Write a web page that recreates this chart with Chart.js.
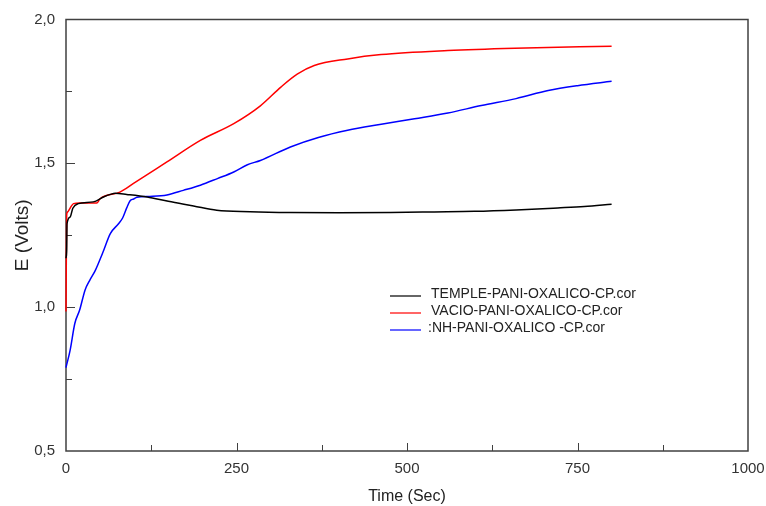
<!DOCTYPE html>
<html>
<head>
<meta charset="utf-8">
<script src="https://cdn.jsdelivr.net/npm/chart.js@4.4.1/dist/chart.umd.min.js"></script>
<style>
  html, body { margin: 0; padding: 0; background: #fff; }
</style>
</head>
<body>
<canvas id="chart" width="766" height="506"></canvas>
<script>
// Series: time (s) and potential (V)
var templeTime = [0, 1, 1.5, 6, 10, 18, 40, 55, 65, 72, 89, 119, 150, 187, 221, 270, 329, 400, 476, 540, 599, 660, 721, 760, 800];
var templeE = [1.17, 1.2, 1.29, 1.313, 1.344, 1.36, 1.366, 1.383, 1.392, 1.396, 1.392, 1.383, 1.368, 1.352, 1.337, 1.332, 1.329, 1.328, 1.329, 1.331, 1.333, 1.338, 1.345, 1.35, 1.358];

var vacioTime = [0, 0.3, 1, 2, 6, 11, 20, 45, 50, 79, 99, 148, 197, 246, 285, 315, 339, 364, 413, 462, 560, 658, 800];
var vacioE = [0.985, 1.1, 1.32, 1.33, 1.344, 1.36, 1.362, 1.362, 1.377, 1.4, 1.43, 1.505, 1.58, 1.638, 1.7, 1.765, 1.81, 1.84, 1.863, 1.878, 1.892, 1.9, 1.907];

var nhTime = [0, 1, 6, 13, 20, 28, 35, 43, 54, 65, 77, 83, 89, 94, 99, 104, 123, 148, 172, 197, 222, 246, 266, 285, 329, 370, 413, 460, 511, 560, 609, 660, 707, 750, 800];
var nhE = [0.79, 0.8, 0.85, 0.944, 0.99, 1.06, 1.094, 1.128, 1.19, 1.256, 1.29, 1.31, 1.345, 1.37, 1.376, 1.382, 1.385, 1.39, 1.406, 1.424, 1.447, 1.47, 1.495, 1.51, 1.557, 1.59, 1.615, 1.635, 1.655, 1.675, 1.701, 1.725, 1.753, 1.77, 1.785];

var seriesLabels = ['TEMPLE-PANI-OXALICO-CP.cor', 'VACIO-PANI-OXALICO-CP.cor', ':NH-PANI-OXALICO -CP.cor'];
var seriesColors = ['#000000', '#ff0000', '#0000ff'];

var xMin = 0, xMax = 1000, xStep = 250;
var yMin = 0.5, yMax = 2.0, yStep = 0.5;

// turn two parallel arrays into {x, y} points
function toPoints(times, values) {
    return times.map(function (t, i) { return { x: t, y: values[i] }; });
}

var FONT = "'Liberation Sans', Arial, sans-serif";

// box around the plot plus inward major/minor tick marks
var frameTicks = {
    id: 'frameTicks',
    beforeDatasetsDraw: function (chart) {
        var ctx = chart.ctx, a = chart.chartArea;
        var x = chart.scales.x, y = chart.scales.y;
        ctx.save();
        ctx.strokeStyle = '#404040';
        ctx.lineWidth = 1.5;
        ctx.strokeRect(a.left, a.top, a.right - a.left, a.bottom - a.top);
        ctx.lineWidth = 1;
        ctx.beginPath();
        for (var v = xMin + xStep / 2; v < xMax; v += xStep / 2) {
            var px = Math.round(x.getPixelForValue(v)) + 0.5;
            var major = Math.abs(v % xStep) < 1e-6;
            ctx.moveTo(px, a.bottom);
            ctx.lineTo(px, a.bottom - (major ? 8 : 6));
        }
        for (var w = yMin + yStep / 2; w < yMax - 1e-6; w += yStep / 2) {
            var py = Math.round(y.getPixelForValue(w)) + 0.5;
            var maj = Math.abs(((w - yMin) / yStep) - Math.round((w - yMin) / yStep)) < 1e-6;
            ctx.moveTo(a.left, py);
            ctx.lineTo(a.left + (maj ? 9 : 6), py);
        }
        ctx.stroke();
        ctx.restore();
    }
};

// legend sitting inside the plot
var innerLegend = {
    id: 'innerLegend',
    afterDraw: function (chart) {
        var ctx = chart.ctx;
        ctx.save();
        ctx.font = '14px ' + FONT;
        ctx.textBaseline = 'middle';
        chart.data.datasets.forEach(function (ds, i) {
            var ly = 296 + i * 17;
            ctx.strokeStyle = ds.borderColor;
            ctx.lineWidth = 1.2;
            ctx.beginPath();
            ctx.moveTo(390, ly);
            ctx.lineTo(421, ly);
            ctx.stroke();
            ctx.fillStyle = '#222';
            ctx.fillText(ds.label, i === 2 ? 428 : 431, ly - 2);
        });
        ctx.restore();
    }
};

new Chart(document.getElementById('chart'), {
    type: 'line',
    data: {
        datasets: [
            { label: seriesLabels[0], data: toPoints(templeTime, templeE), borderColor: seriesColors[0] },
            { label: seriesLabels[1], data: toPoints(vacioTime, vacioE), borderColor: seriesColors[1] },
            { label: seriesLabels[2], data: toPoints(nhTime, nhE), borderColor: seriesColors[2] }
        ]
    },
    options: {
        responsive: false,
        animation: false,
        layout: { padding: { top: 19.5, right: 18, left: 0, bottom: 0 } },
        elements: {
            point: { radius: 0 },
            line: { borderWidth: 1.5, cubicInterpolationMode: 'monotone', fill: false }
        },
        datasets: { line: { clip: 3 } },
        plugins: { legend: { display: false }, tooltip: { enabled: false } },
        scales: {
            x: {
                type: 'linear',
                min: xMin, max: xMax,
                grid: { display: false, drawTicks: false },
                border: { display: false },
                ticks: {
                    stepSize: xStep, padding: 9, color: '#333', font: { family: FONT, size: 15 },
                    callback: function (v) { return String(v); }
                },
                title: { display: true, text: 'Time (Sec)', color: '#222', font: { family: FONT, size: 16 }, padding: { top: 2, bottom: 0 } },
                afterFit: function (s) { s.height = 55; s.paddingRight = 0; s.paddingLeft = 0; }
            },
            y: {
                type: 'linear',
                min: yMin, max: yMax,
                grid: { display: false, drawTicks: false },
                border: { display: false },
                ticks: {
                    stepSize: yStep, padding: 11, color: '#333', font: { family: FONT, size: 15 },
                    callback: function (v) { return v.toFixed(1).replace('.', ','); }
                },
                title: { display: true, text: 'E (Volts)', color: '#222', font: { family: FONT, size: 19 }, padding: { top: 11, bottom: 0 } },
                afterFit: function (s) { s.width = 66; s.paddingTop = 0; s.paddingBottom = 0; }
            }
        }
    },
    plugins: [frameTicks, innerLegend]
});
</script>
</body>
</html>
